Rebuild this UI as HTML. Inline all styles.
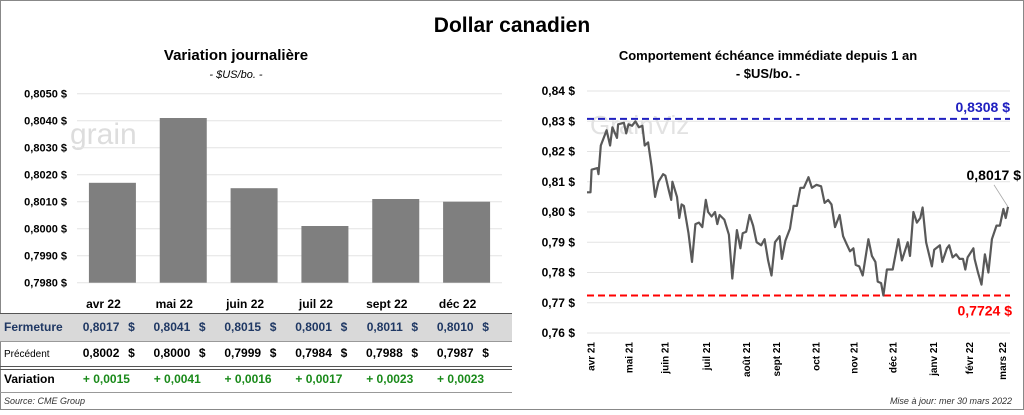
<!DOCTYPE html>
<html><head><meta charset="utf-8">
<style>
body{margin:0;width:1024px;height:410px;overflow:hidden;background:#fff;font-family:"Liberation Sans",sans-serif;}
svg text{font-family:"Liberation Sans",sans-serif;}
</style></head>
<body>
<svg id="svg" width="1024" height="410" xmlns="http://www.w3.org/2000/svg">
<rect x="0.5" y="0.5" width="1023" height="409" fill="#fff" stroke="#888"/>
<text x="512" y="32" text-anchor="middle" font-size="21" font-weight="bold">Dollar canadien</text>
<text x="236" y="60" text-anchor="middle" font-size="15" font-weight="bold">Variation  journalière</text>
<text x="236" y="78" text-anchor="middle" font-size="11" font-style="italic">- $US/bo. -</text>
<text x="768" y="60" text-anchor="middle" font-size="13" font-weight="bold">Comportement échéance immédiate depuis 1 an</text>
<text x="768" y="78" text-anchor="middle" font-size="13" font-weight="bold">- $US/bo. -</text>
<text x="70" y="144" font-size="30" fill="#ddd">grain</text>
<text x="590" y="134" font-size="26" fill="#e2e2e2">GrainViz</text>
<g id="left"></g>
<g id="table"></g>
<g id="right"></g>
<text x="4" y="404" font-size="9" font-style="italic" fill="#333">Source: CME Group</text>
<text x="1012" y="404" text-anchor="end" font-size="9" font-style="italic" fill="#333">Mise à jour: mer 30 mars 2022</text>
</svg>
<script>
const categories=["avr 22","mai 22","juin 22","juil 22","sept 22","déc 22"];
const closeVals=[0.8017,0.8041,0.8015,0.8001,0.8011,0.8010];
const prevVals=[0.8002,0.8000,0.7999,0.7984,0.7988,0.7987];
const barTicks=[0.7980,0.7990,0.8000,0.8010,0.8020,0.8030,0.8040,0.8050];

const lineDays=[0,3,4,9,10,12,17,20,22,26,27,32,34,36,39,42,45,48,50,53,56,59,62,66,68,71,73,74,78,80,82,84,88,91,94,97,100,103,105,108,111,113,115,119,123,126,130,133,135,138,141,144,147,151,154,157,160,163,167,169,172,176,179,182,185,188,192,195,199,203,206,209,212,215,219,222,225,228,231,233,236,239,244,247,250,252,255,257,260,265,270,273,276,278,280,283,286,289,291,294,299,301,306,308,312,314,317,320,323,326,328,330,335,336,339,342,345,348,351,355,358,361,363,365];
const lineVals=[0.8065,0.8065,0.814,0.8145,0.8125,0.822,0.827,0.822,0.828,0.8245,0.829,0.8295,0.826,0.829,0.8285,0.830,0.828,0.8285,0.822,0.823,0.815,0.805,0.810,0.8125,0.812,0.807,0.804,0.810,0.805,0.798,0.8025,0.802,0.793,0.7835,0.796,0.7965,0.795,0.804,0.800,0.7985,0.800,0.796,0.799,0.7975,0.7925,0.778,0.794,0.788,0.793,0.7935,0.799,0.7955,0.790,0.789,0.791,0.784,0.779,0.790,0.792,0.7845,0.7905,0.7945,0.802,0.802,0.808,0.808,0.8115,0.808,0.809,0.8085,0.803,0.804,0.8025,0.795,0.799,0.792,0.7895,0.787,0.788,0.7825,0.782,0.779,0.791,0.7855,0.7835,0.777,0.7765,0.7724,0.781,0.781,0.791,0.784,0.7875,0.790,0.7855,0.800,0.7965,0.798,0.8015,0.790,0.782,0.7875,0.789,0.7835,0.788,0.789,0.785,0.786,0.7845,0.7845,0.781,0.785,0.788,0.7845,0.780,0.776,0.786,0.780,0.791,0.7955,0.7955,0.801,0.798,0.8017];
const lineTicks=[0.76,0.77,0.78,0.79,0.80,0.81,0.82,0.83,0.84];
const monthLabels=["avr 21","mai 21","juin 21","juil 21","août 21","sept 21","oct 21","nov 21","déc 21","janv 21","févr 22","mars 22"];
const monthDays=[3,36,67,103,138,164,198,231,265,300,331,360];
const highVal=0.8308, lowVal=0.7724, lastVal=0.8017;

const NS="http://www.w3.org/2000/svg";
function mk(parent,tag,attrs,text){const e=document.createElementNS(NS,tag);for(const k in attrs)e.setAttribute(k,attrs[k]);if(text!==undefined)e.textContent=text;parent.appendChild(e);return e;}
const fmt4=v=>v.toFixed(4).replace('.',',');
const fmt2=v=>v.toFixed(2).replace('.',',');

// Bar chart
const L=document.getElementById('left');
const bx0=77,bx1=502,by0=282.7,by1=93.7,bmin=0.7980,bmax=0.8050;
const by=v=>by0+(v-bmin)/(bmax-bmin)*(by1-by0);
const band=(bx1-bx0)/categories.length;
const bcx=i=>bx0+band*(i+0.5);
barTicks.forEach(t=>{
  const g=mk(L,'line',{x1:bx0,x2:bx1,y1:by(t),y2:by(t),stroke:'#e3e3e3','stroke-width':1});
  
  
  const l=mk(L,'text',{x:67,y:by(t)+4,'text-anchor':'end','font-size':11,'font-weight':'bold'},fmt4(t)+' $');
  
  
});
closeVals.forEach((v,i)=>{
  const r=mk(L,'rect',{x:bcx(i)-23.5,y:by(v),width:47,height:by0-by(v),fill:'#7f7f7f'});
  
  
});

// Table
const T=document.getElementById('table');
const bg=mk(T,'rect',{x:0,y:313,width:512,height:28,fill:'#d9d9d9'});


[[313,'#555',1],[341,'#999',1],[366,'#555',1],[369,'#555',1],[392,'#999',1]].forEach(a=>{
  const ln=mk(T,'line',{x1:0,x2:512,y1:a[0]+0.5,y2:a[0]+0.5,stroke:a[1],'stroke-width':a[2]});
  
  
});
const rowLabels=[["Fermeture",331,12,'bold','#1f3864'],["Précédent",357,10,'normal','#000'],["Variation",383,12,'bold','#000']];
rowLabels.forEach(r=>{
  const t=mk(T,'text',{x:4,y:r[1],'font-size':r[2],'font-weight':r[3],fill:r[4]},r[0]);
  
  
});
categories.forEach((c,i)=>{
  const cx=bcx(i);
  const h=mk(T,'text',{x:cx-9,y:308,'text-anchor':'middle','font-size':12,'font-weight':'bold'},c);
  
  
  const a=mk(T,'text',{x:cx+7,y:331,'text-anchor':'end','font-size':12,'font-weight':'bold',fill:'#1f3864'},fmt4(closeVals[i]));
  
  
  const a2=mk(T,'text',{x:cx+19,y:331,'text-anchor':'middle','font-size':12,'font-weight':'bold',fill:'#1f3864'},'$');
  
  
  const b=mk(T,'text',{x:cx+7,y:357,'text-anchor':'end','font-size':12,'font-weight':'bold'},fmt4(prevVals[i]));
  
  
  const b2=mk(T,'text',{x:cx+19,y:357,'text-anchor':'middle','font-size':12,'font-weight':'bold'},'$');
  
  
  const d=closeVals[i]-prevVals[i];
  const v=mk(T,'text',{x:cx-6,y:383,'text-anchor':'middle','font-size':12,'font-weight':'bold',fill:'#1a8a1a'},(d>=0?'+ ':'- ')+fmt4(Math.abs(d)));
  
  
});

// Line chart
const R=document.getElementById('right');
const lx0=587,lx1=1008,ly0=333,ly1=91,lmin=0.76,lmax=0.84;
const lx=d=>lx0+d/365*(lx1-lx0);
const ly=v=>ly0+(v-lmin)/(lmax-lmin)*(ly1-ly0);
lineTicks.forEach(t=>{
  const g=mk(R,'line',{x1:lx0,x2:1010,y1:ly(t),y2:ly(t),stroke:'#e3e3e3'});
  
  
  const l=mk(R,'text',{x:575,y:ly(t)+4,'text-anchor':'end','font-size':12,'font-weight':'bold'},fmt2(t)+' $');
  
  
});
monthLabels.forEach((m,i)=>{
  const x=lx(monthDays[i]);
  const t=mk(R,'text',{x:0,y:0,'text-anchor':'end','font-size':10,'font-weight':'bold',transform:`translate(${x+4},342) rotate(-90)`},m);
  
  
});
const hl=mk(R,'line',{x1:lx0,x2:1010,y1:ly(highVal),y2:ly(highVal),stroke:'#2020c0','stroke-width':2,'stroke-dasharray':'7,4'});


const ll=mk(R,'line',{x1:lx0,x2:1010,y1:ly(lowVal),y2:ly(lowVal),stroke:'#ff0000','stroke-width':2,'stroke-dasharray':'7,4'});


const ht=mk(R,'text',{x:1010,y:ly(highVal)-7,'text-anchor':'end','font-size':14,'font-weight':'bold',fill:'#2020c0'},fmt4(highVal)+' $');


const lt=mk(R,'text',{x:1012,y:ly(lowVal)+20,'text-anchor':'end','font-size':14,'font-weight':'bold',fill:'#ff0000'},fmt4(lowVal)+' $');


const pts=lineDays.map((d,i)=>lx(d).toFixed(1)+','+ly(lineVals[i]).toFixed(1)).join(' ');
const pl=mk(R,'polyline',{points:pts,fill:'none',stroke:'#595959','stroke-width':2.2,'stroke-linejoin':'round'});


const ex=lx(lineDays[lineDays.length-1]),ey=ly(lineVals[lineVals.length-1]);
const lead=mk(R,'line',{x1:ex,y1:ey,x2:ex-14,y2:ey-22,stroke:'#aaa','stroke-width':0.8});


const lv=mk(R,'text',{x:1021,y:ey-27,'text-anchor':'end','font-size':14,'font-weight':'bold'},fmt4(lastVal)+' $');


</script>
</body></html>
